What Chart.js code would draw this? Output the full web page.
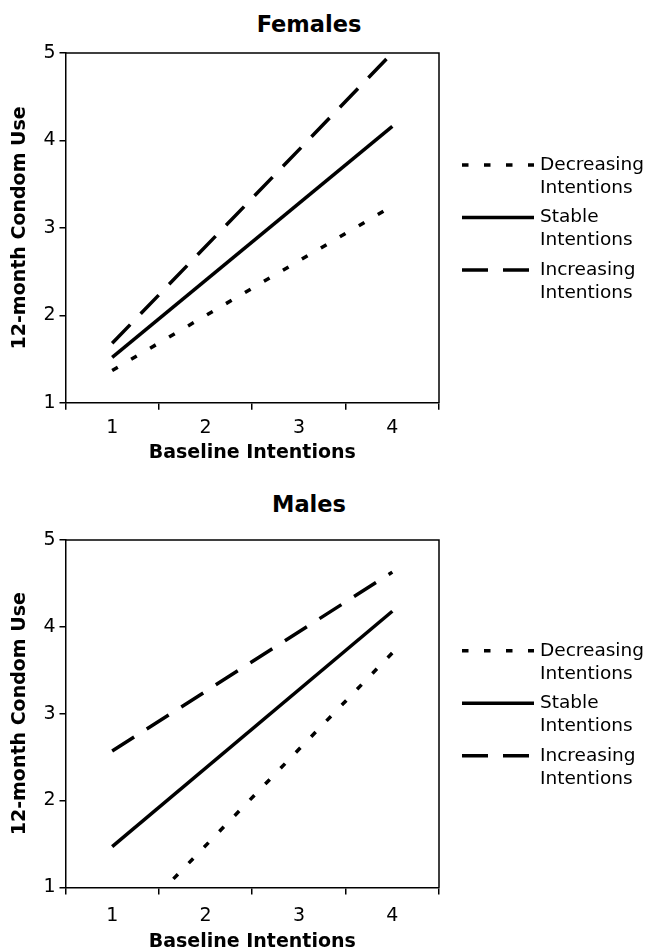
<!DOCTYPE html>
<html>
<head>
<meta charset="utf-8">
<script src="https://cdn.jsdelivr.net/npm/chart.js@4.4.1/dist/chart.umd.min.js"></script>
<style>
  html, body { margin: 0; padding: 0; background: #fff; }
  body { width: 648px; height: 950px; position: relative; overflow: hidden; font-family: "DejaVu Sans", Verdana, sans-serif; }
  .panel { position: absolute; left: 0; width: 648px; height: 475px; }
  .panel h2 { position: absolute; left: 0; width: 618px; margin: 0; text-align: center; font-size: 22.5px; line-height: 22px; font-weight: bold; color: #000; }
  canvas { position: absolute; left: 0; top: 0; }
</style>
</head>
<body>
<div class="panel" style="top:0">
  <h2 style="top:13px">Females</h2>
  <canvas id="femalesChart" width="648" height="475"></canvas>
</div>
<div class="panel" style="top:475px">
  <h2 style="top:18px">Males</h2>
  <canvas id="malesChart" width="648" height="480"></canvas>
</div>
<script>
// categories on the x axis and where the fitted lines are drawn
const baseline = ['1', '2', '3', '4'];
const lineX = ['1', '4'];
const yTicks = [1, 2, 3, 4, 5];
const seriesNames = [['Decreasing', 'Intentions'], ['Stable', 'Intentions'], ['Increasing', 'Intentions']];

// 12-month condom use at baseline intentions 1 and 4
const femalesDecreasing = [1.37, 3.25];
const femalesStable = [1.52, 4.16];
const femalesIncreasing = [1.68, 5.0];

const malesDecreasing = [0.37, 3.70];
const malesStable = [1.47, 4.18];
const malesIncreasing = [2.57, 4.63];

Chart.defaults.font.family = "'DejaVu Sans', Verdana, sans-serif";
Chart.defaults.color = '#000';

const dashes = [[6.5, 15.5], [], [26, 15]];

// box round the plot and the legend to the right of it
// (the built-in legend is capped to a third of the width here, too narrow)
const framePlugin = {
  id: 'frameAndLegend',
  afterDraw(chart) {
    const { ctx, chartArea } = chart;
    ctx.save();
    ctx.strokeStyle = '#000';
    ctx.lineWidth = 1.5;
    ctx.beginPath();
    ctx.moveTo(chartArea.left, chartArea.top);
    ctx.lineTo(chartArea.right, chartArea.top);
    ctx.lineTo(chartArea.right, chartArea.bottom);
    ctx.stroke();

    const lineH = 23, itemH = 52.5;
    const x0 = chartArea.right + 23;
    const mid = (chartArea.top + chartArea.bottom) / 2;
    const first = mid - 63;
    chart.data.datasets.forEach((ds, i) => {
      const y = first + i * itemH;
      ctx.strokeStyle = ds.borderColor;
      ctx.lineWidth = ds.borderWidth;
      ctx.setLineDash(ds.borderDash);
      ctx.beginPath();
      ctx.moveTo(x0, y);
      ctx.lineTo(x0 + 72, y);
      ctx.stroke();
      ctx.setLineDash([]);
      ctx.fillStyle = '#000';
      ctx.font = "18.5px 'DejaVu Sans', Verdana, sans-serif";
      ctx.textBaseline = 'middle';
      ds.label.forEach((t, k) => ctx.fillText(t, x0 + 78, y + k * lineH));
    });
    ctx.restore();
  }
};

function makeDatasets(values) {
  return values.map((vals, i) => ({
    label: seriesNames[i],
    data: vals.map((v, j) => ({ x: lineX[j], y: v })),
    borderColor: '#000',
    borderWidth: 3.5,
    borderDash: dashes[i],
    pointRadius: 0,
    fill: false,
    clip: 0
  }));
}

function makeChart(id, values, padTop, padBottom, tickPad, titlePad) {
  const ctx = document.getElementById(id).getContext('2d');
  return new Chart(ctx, {
    type: 'line',
    data: { labels: baseline, datasets: makeDatasets(values) },
    plugins: [framePlugin],
    options: {
      responsive: false,
      animation: false,
      layout: { padding: { top: padTop, bottom: padBottom, left: 9, right: 209 } },
      plugins: {
        tooltip: { enabled: false },
        legend: { display: false }
      },
      scales: {
        x: {
          type: 'category',
          offset: true,
          grid: { offset: true, drawOnChartArea: false, tickLength: 7, color: '#000', lineWidth: 1.5 },
          border: { color: '#000', width: 1.5 },
          ticks: { font: { size: 19 }, padding: tickPad, color: '#000' },
          title: { display: true, text: 'Baseline Intentions', font: { size: 19, weight: 'bold' }, padding: { top: titlePad, bottom: 0 } }
        },
        y: {
          min: 1,
          max: 5,
          afterBuildTicks: axis => { axis.ticks = yTicks.map(v => ({ value: v })); },
          grid: { drawOnChartArea: false, tickLength: 6, color: '#000', lineWidth: 1.5 },
          border: { color: '#000', width: 1.5 },
          ticks: { font: { size: 19 }, padding: 4, color: '#000' },
          title: { display: true, text: '12-month Condom Use', font: { size: 19, weight: 'bold' }, padding: { top: 0, bottom: 7.6 } }
        }
      }
    }
  });
}

makeChart('femalesChart', [femalesDecreasing, femalesStable, femalesIncreasing], 53, 10.6, 7, -5);
makeChart('malesChart', [malesDecreasing, malesStable, malesIncreasing], 65, 2, 10, -7);
</script>
</body>
</html>
